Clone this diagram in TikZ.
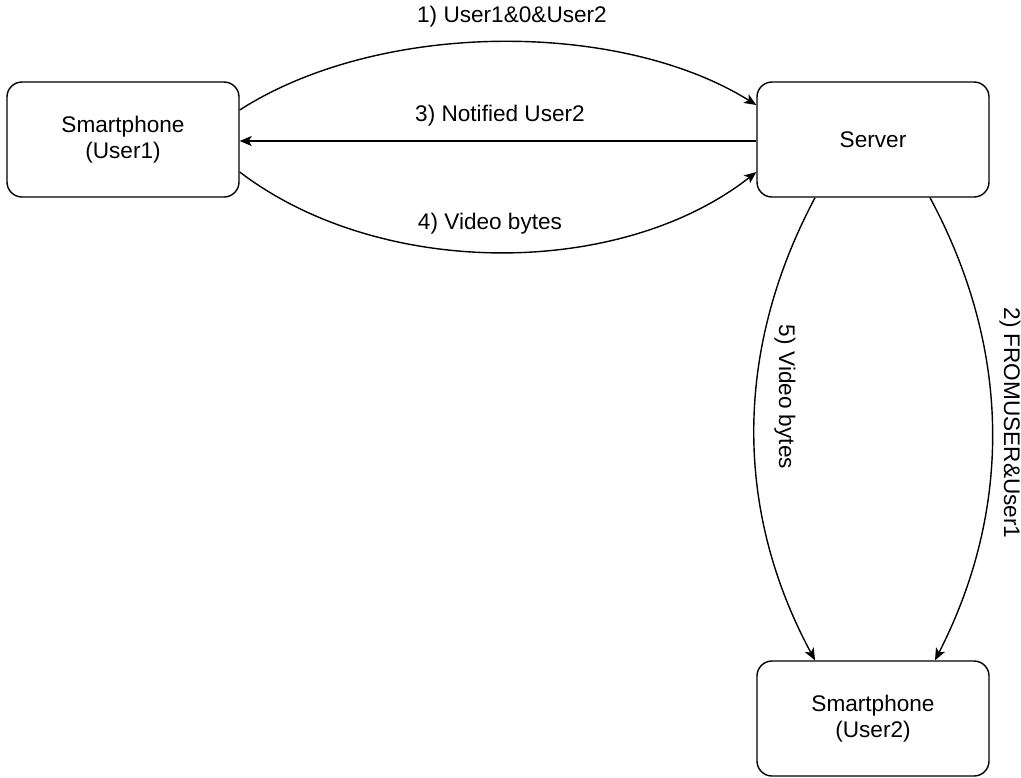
\documentclass[tikz,border=0pt]{standalone}
\usepackage{fontspec}
\setmainfont{Liberation Sans}
\usetikzlibrary{arrows.meta}
\begin{document}
\begin{tikzpicture}[x=0.5pt,y=-0.5pt,
  box/.style={draw,line width=0.7pt,rounded corners=7.5pt,minimum width=116pt,minimum height=57.5pt,align=center,inner sep=0pt,font=\fontsize{11.3}{13}\selectfont},
  conn/.style={line width=0.7pt,-{Stealth[length=6pt,width=5pt,inset=1.5pt]}},
  lbl/.style={font=\fontsize{11.3}{13}\selectfont,inner sep=0pt}]
\useasboundingbox (0,0) rectangle (1021,777);
\node[box] (u1) at (123,139.5) {Smartphone\\(User1)};
\node[box] (srv) at (873,139.5) {Server};
\node[box] (u2) at (873,718.5) {Smartphone\\(User2)};
% 1
\draw[conn] ([yshift=14.75pt]u1.east) .. controls (380,20) and (620,20) .. ([yshift=17.25pt]srv.west);
\node[lbl] (l1) at (512,17) {1) User1\&0\&User2};
% 3
\draw[conn] ([yshift=-0.75pt]srv.west) -- ([yshift=-0.75pt]u1.east);
\node[lbl] (l3) at (500,116) {3) Notified User2};
% 4
\draw[conn] ([yshift=-16.25pt]u1.east) .. controls (380,279) and (620,279) .. ([yshift=-16.25pt]srv.west);
\node[lbl] (l4) at (490,224) {4) Video bytes};
% 5
\draw[conn] ([xshift=-29pt]srv.south) .. controls (734,350) and (734,510) .. ([xshift=-29pt]u2.north);
\node[lbl,rotate=-90] (l5) at (785,397) {5) Video bytes};
% 2
\draw[conn] ([xshift=28.5pt]srv.south) .. controls (1012,350) and (1012,510) .. ([xshift=31pt]u2.north);
\node[lbl,rotate=-90] (l2) at (1010,423) {2) FROMUSER\&User1};
\end{tikzpicture}
\end{document}
